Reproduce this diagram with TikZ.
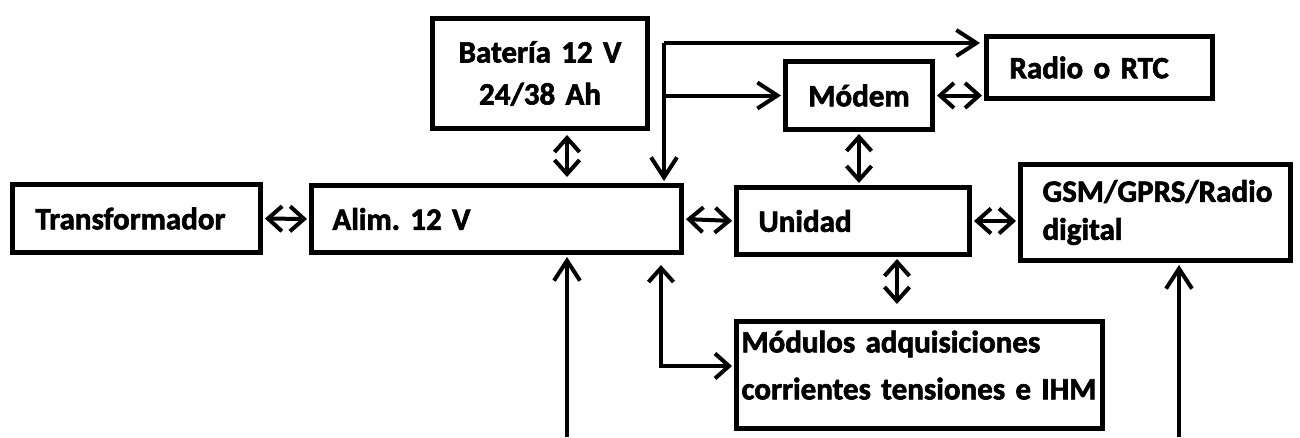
\documentclass[tikz,border=0pt]{standalone}
\usepackage{fontspec}
\setsansfont{Carlito}[BoldFont={Carlito Bold}, BoldFeatures={FakeBold=2}, WordSpace=0.75]
\usetikzlibrary{arrows.meta}
\newcommand{\bfnt}{\sffamily\bfseries\frenchspacing\fontsize{31pt}{42pt}\selectfont}
\tikzset{
  box/.style={draw, line width=5pt, inner ysep=0pt, anchor=north west, font=\bfnt},
  conn/.style={line width=4pt},
  one/.style={conn, -{Straight Barb[length=20pt,width=26pt]}},
  two/.style={conn, {Straight Barb[length=14pt,width=25pt]}-{Straight Barb[length=14pt,width=25pt]}},
}
\begin{document}
\begin{tikzpicture}[x=1pt,y=-1pt]
\useasboundingbox (0,0) rectangle (1300,437);
\fill[white] (0,0) rectangle (1300,437);
% boxes
\node[box, minimum width=248pt, minimum height=68pt, inner xsep=23pt, text width=202pt, align=left] (trafo) at (10,182) {Transformador};
\node[box, minimum width=370pt, minimum height=67pt, inner xsep=21pt, text width=328pt, align=left] (alim) at (309,183) {Alim. 12 V};
\node[box, minimum width=215pt, minimum height=110pt, inner xsep=0pt, text width=215pt, align=center] (bat) at (430,16) {Batería 12 V\\24/38 Ah};
\node[box, minimum width=147pt, minimum height=68pt, inner xsep=0pt, text width=147pt, align=center] (modem) at (783,59) {Módem};
\node[box, minimum width=226pt, minimum height=62pt, inner xsep=23pt, text width=180pt, align=left] (radio) at (984,34) {Radio o RTC};
\node[box, minimum width=233pt, minimum height=67pt, inner xsep=22pt, text width=189pt, align=left] (unidad) at (734,185) {Unidad};
\node[box, minimum width=270pt, minimum height=96pt, inner xsep=22pt, text width=226pt, align=left, font=\bfnt\fontsize{31pt}{38pt}\selectfont] (gsm) at (1018,162) {GSM/GPRS/Radio\\digital};
\node[box, minimum width=366pt, minimum height=107pt, inner xsep=5pt, text width=356pt, align=left, font=\bfnt\fontsize{31pt}{44pt}\selectfont] (modulos) at (734,319) {Módulos adquisiciones\\[3pt]corrientes tensiones e IHM\\[-24pt]\mbox{}};
% coordinates
\coordinate (xb) at (567,0);
\coordinate (xm) at (897,0);
\coordinate (tb) at (664,43);
\coordinate (bb) at (661,366);
\coordinate (b1) at (567,437);
\coordinate (b2) at (1179,437);
% connectors
\draw[two, shorten <=2pt, shorten >=2pt] (trafo.east) -- (alim.west);
\draw[two, shorten <=2pt, shorten >=2pt] (alim.east) -- (unidad.west);
\draw[two, shorten <=2pt, shorten >=2pt] (unidad.east) -- (unidad.east -| gsm.west);
\draw[two, shorten <=4pt, shorten >=6pt] (bat.south -| xb) -- (alim.north -| xb);
\draw[two, shorten <=2pt, shorten >=2pt] (modem.south) -- (modem.south |- unidad.north);
\draw[two, shorten <=2pt, shorten >=15pt] (unidad.south -| xm) -- (modulos.north -| xm);
\draw[two, shorten <=2pt, shorten >=2pt] (modem.east) -- (modem.east -| radio.west);
\draw[conn] (tb |- modem.west) -- (tb);
\draw[one, shorten >=4pt] (tb) -- (tb -| radio.west);
\draw[one, shorten >=2pt] (tb |- modem.west) -- (modem.west);
\draw[one, shorten >=2pt] (tb) -- (alim.north -| tb);
\draw[one, shorten >=2pt] (b1) -- (alim.south -| b1);
\draw[one, shorten >=2pt] (b2) -- (gsm.south -| b2);
\draw[two, shorten <=10pt, shorten >=2pt] (alim.south -| bb) -- (bb) -- (modulos.west |- bb);
\end{tikzpicture}
\end{document}
